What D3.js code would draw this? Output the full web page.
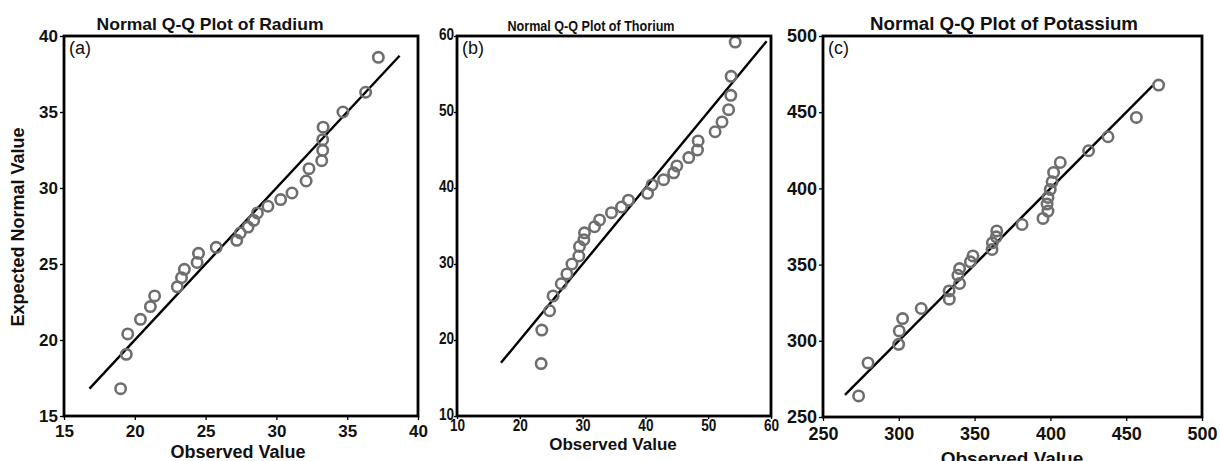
<!DOCTYPE html>
<html>
<head>
<meta charset="utf-8">
<script src="https://cdn.jsdelivr.net/npm/d3@7"></script>
<style>
  body { margin: 0; background: #fff; }
  svg { display: block; font-family: "Liberation Sans", Arial, sans-serif; }
</style>
</head>
<body>
<div id="chart"></div>
<script>
// observed vs expected normal values
const radiumObserved = [19.0, 19.4, 19.5, 20.4, 21.1, 21.4, 23.0, 23.3, 23.5, 24.4, 24.5, 25.75, 27.2, 27.45, 28.0, 28.4, 28.66, 29.4, 30.3, 31.1, 32.1, 32.3, 33.2, 33.27, 33.27, 33.3, 34.7, 36.3, 37.2];
const radiumExpected = [16.8, 19.06, 20.4, 21.36, 22.2, 22.9, 23.5, 24.1, 24.65, 25.1, 25.7, 26.1, 26.56, 27.04, 27.43, 27.87, 28.36, 28.8, 29.24, 29.67, 30.46, 31.27, 31.8, 32.48, 33.18, 34.0, 35.0, 36.3, 38.6];

const thoriumObserved = [23.4, 23.5, 24.75, 25.3, 26.6, 27.5, 28.3, 29.4, 29.5, 30.2, 30.3, 31.9, 32.7, 34.6, 36.2, 37.3, 40.35, 41.05, 42.9, 44.5, 45.0, 46.9, 48.3, 48.4, 51.1, 52.2, 53.25, 53.6, 53.65, 54.3];
const thoriumExpected = [16.9, 21.3, 23.85, 25.8, 27.4, 28.7, 30.0, 31.05, 32.3, 33.2, 34.1, 34.9, 35.8, 36.75, 37.5, 38.4, 39.3, 40.4, 41.1, 42.0, 42.9, 44.0, 45.0, 46.2, 47.4, 48.7, 50.3, 52.2, 54.7, 59.2];

const potassiumObserved = [273.5, 279.7, 299.9, 300.3, 302.5, 314.8, 333.3, 333.2, 340.1, 339.0, 340.1, 347.2, 348.9, 361.5, 361.7, 364.3, 364.6, 381.3, 395.1, 398.4, 397.8, 398.4, 399.9, 401.1, 402.1, 406.5, 425.2, 438.0, 456.7, 471.4];
const potassiumExpected = [263.8, 285.5, 297.7, 306.5, 314.6, 321.2, 327.3, 332.7, 337.6, 343.0, 347.4, 351.8, 355.7, 359.9, 364.3, 368.2, 372.1, 376.3, 380.3, 385.1, 389.7, 394.1, 399.3, 404.3, 410.5, 417.0, 424.7, 433.9, 446.6, 467.8];

// reference line y = x, start and end
const radiumLine = [16.8, 38.7];
const thoriumLine = [17.0, 59.3];
const potassiumLine = [264.5, 467.5];

const radiumTicks = [15, 20, 25, 30, 35, 40];
const thoriumTicks = [10, 20, 30, 40, 50, 60];
const potassiumTicks = [250, 300, 350, 400, 450, 500];

const titles = ["Normal Q-Q Plot of Radium", "Normal Q-Q Plot of Thorium", "Normal Q-Q Plot of Potassium"];
const tags = ["(a)", "(b)", "(c)"];

const panels = [
  { obs: radiumObserved, exp: radiumExpected, line: radiumLine, ticks: radiumTicks,
    left: 64, top: 36, right: 418, bottom: 416, tickFont: 17, squeeze: 1, tickSize: 4, xPad: 5, yPad: 2,
    titleFont: 17, titleX: 210, titleY: 30, titleLen: 227, labelFont: 18, labelX: 238, labelY: 458 },
  { obs: thoriumObserved, exp: thoriumExpected, line: thoriumLine, ticks: thoriumTicks,
    left: 457, top: 36, right: 771, bottom: 416, tickFont: 17, squeeze: 0.8, tickSize: 3, xPad: 0, yPad: 0,
    titleFont: 14, titleX: 591, titleY: 31, titleLen: 167, labelFont: 17, labelX: 613, labelY: 450 },
  { obs: potassiumObserved, exp: potassiumExpected, line: potassiumLine, ticks: potassiumTicks,
    left: 823, top: 36, right: 1202, bottom: 417, tickFont: 18, squeeze: 1, tickSize: 4, xPad: 6, yPad: 2,
    titleFont: 18, titleX: 1004, titleY: 30, titleLen: 268, labelFont: 19, labelX: 1012, labelY: 465 }
];

const svg = d3.select("#chart").append("svg")
  .attr("width", 1220)
  .attr("height", 461);

panels.forEach((p, i) => {
  const dom = [p.ticks[0], p.ticks[p.ticks.length - 1]];
  const x = d3.scaleLinear().domain(dom).range([p.left, p.right]);
  const y = d3.scaleLinear().domain(dom).range([p.bottom, p.top]);
  const g = svg.append("g");

  const xAxis = g.append("g")
    .attr("transform", `translate(0,${p.bottom})`)
    .call(d3.axisBottom(x).tickValues(p.ticks).tickSize(p.tickSize).tickSizeOuter(0).tickPadding(p.xPad));
  const yAxis = g.append("g")
    .attr("transform", `translate(${p.left},0)`)
    .call(d3.axisLeft(y).tickValues(p.ticks).tickSize(p.tickSize).tickSizeOuter(0).tickPadding(p.yPad));

  [xAxis, yAxis].forEach(a => {
    a.attr("font-size", null).attr("font-family", null);
    a.select(".domain").remove();
    a.selectAll("line").attr("stroke", "#000").attr("stroke-width", 1.3);
    a.selectAll("text")
      .style("font-size", p.tickFont + "px")
      .style("font-weight", "bold")
      .attr("fill", "#111");
  });
  if (p.squeeze < 1) {
    // narrow digits in the middle panel
    xAxis.selectAll("text").attr("transform", `scale(${p.squeeze},1)`);
    yAxis.selectAll("text")
      .attr("x", -(p.tickSize + p.yPad) / p.squeeze)
      .attr("dy", "0.22em")
      .attr("transform", `scale(${p.squeeze},1)`);
  }

  // reference line
  g.append("line")
    .attr("x1", x(p.line[0])).attr("y1", y(p.line[0]))
    .attr("x2", x(p.line[1])).attr("y2", y(p.line[1]))
    .attr("stroke", "#000")
    .attr("stroke-width", 2.4);

  g.selectAll(".pt")
    .data(p.obs.map((v, j) => [v, p.exp[j]]))
    .enter()
    .append("circle")
    .attr("class", "pt")
    .attr("cx", d => x(d[0]))
    .attr("cy", d => y(d[1]))
    .attr("r", 5.2)
    .attr("fill", "none")
    .attr("stroke", "#6e6e6e")
    .attr("stroke-width", 2.6);

  // frame
  g.append("rect")
    .attr("x", p.left).attr("y", p.top)
    .attr("width", p.right - p.left).attr("height", p.bottom - p.top)
    .attr("fill", "none")
    .attr("stroke", "#000")
    .attr("stroke-width", 2.8);

  g.append("text")
    .attr("x", p.titleX).attr("y", p.titleY)
    .attr("text-anchor", "middle")
    .attr("font-size", p.titleFont)
    .attr("font-weight", "bold")
    .attr("textLength", p.titleLen)
    .attr("lengthAdjust", "spacingAndGlyphs")
    .attr("fill", "#111")
    .text(titles[i]);

  g.append("text")
    .attr("x", p.left + 5).attr("y", p.top + 18)
    .attr("font-size", 18)
    .attr("fill", "#111")
    .text(tags[i]);

  g.append("text")
    .attr("x", p.labelX).attr("y", p.labelY)
    .attr("text-anchor", "middle")
    .attr("font-size", p.labelFont)
    .attr("font-weight", "bold")
    .attr("fill", "#111")
    .text("Observed Value");
});

svg.append("text")
  .attr("transform", "translate(24,227) rotate(-90)")
  .attr("text-anchor", "middle")
  .attr("font-size", 18)
  .attr("font-weight", "bold")
  .attr("fill", "#111")
  .text("Expected Normal Value");
</script>
</body>
</html>
